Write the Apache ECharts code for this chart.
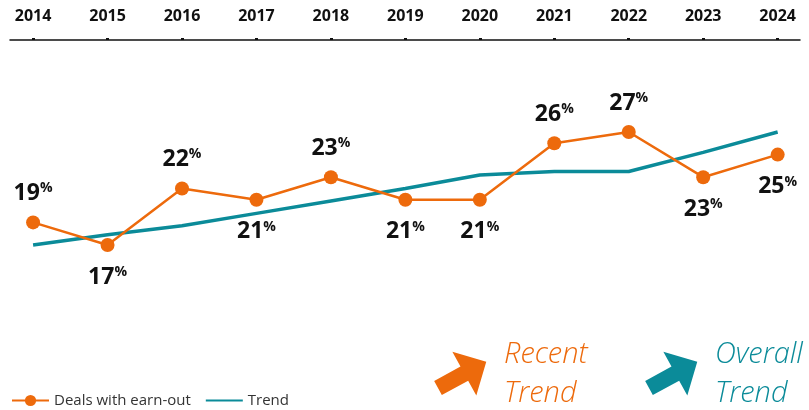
<!DOCTYPE html>
<html lang="en">
<head>
    <meta charset="UTF-8">
    <title>Deals with earn-out</title>
    <script src="https://cdn.jsdelivr.net/npm/echarts@6/dist/echarts.min.js"></script>
    <style>
        html, body { margin: 0; padding: 0; background: #fff; }
        #container { width: 809px; height: 410px; }
    </style>
</head>
<body>
<div id="container"></div>
<script>
    // data
    var years = [2014, 2015, 2016, 2017, 2018, 2019, 2020, 2021, 2022, 2023, 2024];
    var earnOut = [19, 17, 22, 21, 23, 21, 21, 26, 27, 23, 25];
    var trend = [17.0, 17.9, 18.7, 19.8, 20.9, 22.0, 23.2, 23.5, 23.5, 25.2, 27.0];

    // label above / below each point
    var labelSide = ['top', 'bottom', 'top', 'bottom', 'top', 'bottom', 'bottom', 'top', 'top', 'bottom', 'bottom'];

    var ORANGE = '#ED6A0C';
    var TEAL = '#0B8B99';
    var FONT = 'Open Sans';

    var dom = document.getElementById('container');
    var myChart = echarts.init(dom);

    var pairs = function (vals) {
        return years.map(function (y, i) { return [y, vals[i]]; });
    };

    var earnData = pairs(earnOut).map(function (p, i) {
        return {
            value: p,
            label: { position: labelSide[i], distance: labelSide[i] === 'top' ? 10 : 13 }
        };
    });

    // chunky arrow pointing right, rotated later
    var arrowPts = [[0, -8], [30, -8], [30, -25], [55, 0], [30, 25], [30, 8], [0, 8]];
    var arrowFont = 'italic 300 29px "Open Sans"';

    var option = {
        backgroundColor: '#fff',
        animation: false,
        grid: { left: 10, right: 9, top: 40, bottom: 85.9 },
        xAxis: {
            type: 'value',
            position: 'top',
            min: 2013.69,
            max: 2024.3,
            splitLine: { show: false },
            axisLine: { show: true, lineStyle: { color: '#111', width: 1.5 } },
            axisTick: { show: true, customValues: years, length: 2, lineStyle: { color: '#111', width: 3 } },
            axisLabel: {
                customValues: years,
                margin: 16,
                color: '#111',
                fontFamily: FONT,
                fontWeight: 'bold',
                fontSize: 16,
                formatter: function (v) { return String(v); }
            }
        },
        yAxis: {
            type: 'value',
            min: 10,
            max: 35.14,
            show: false,
            splitLine: { show: false }
        },
        legend: {
            left: 6,
            top: 388,
            itemWidth: 37,
            itemHeight: 14,
            itemGap: 14,
            textStyle: { color: '#333', fontFamily: FONT, fontSize: 15 },
            data: ['Deals with earn-out', { name: 'Trend', itemStyle: { opacity: 0 } }]
        },
        series: [
            {
                name: 'Trend',
                type: 'line',
                data: pairs(trend),
                symbol: 'none',
                z: 2,
                lineStyle: { color: TEAL, width: 3.5 },
                itemStyle: { color: TEAL }
            },
            {
                name: 'Deals with earn-out',
                type: 'line',
                data: earnData,
                symbol: 'circle',
                symbolSize: 14,
                z: 3,
                lineStyle: { color: ORANGE, width: 2.5 },
                itemStyle: { color: ORANGE },
                label: {
                    show: true,
                    formatter: function (p) { return '{n|' + p.value[1] + '}{p|%}'; },
                    rich: {
                        n: { fontFamily: FONT, fontWeight: 'bold', fontSize: 23, color: '#111', lineHeight: 24 },
                        p: { fontFamily: FONT, fontWeight: 'bold', fontSize: 14, color: '#111', lineHeight: 14, verticalAlign: 'top' }
                    }
                }
            }
        ],
        graphic: [
            { type: 'polygon', x: 438, y: 388, rotation: 0.5, shape: { points: arrowPts }, style: { fill: ORANGE } },
            { type: 'text', x: 504, y: 355, style: { text: 'Recent', fill: ORANGE, font: arrowFont, verticalAlign: 'middle' } },
            { type: 'text', x: 504, y: 394, style: { text: 'Trend', fill: ORANGE, font: arrowFont, verticalAlign: 'middle' } },
            { type: 'polygon', x: 649, y: 388, rotation: 0.5, shape: { points: arrowPts }, style: { fill: TEAL } },
            { type: 'text', x: 715, y: 355, style: { text: 'Overall', fill: TEAL, font: arrowFont, verticalAlign: 'middle' } },
            { type: 'text', x: 715, y: 394, style: { text: 'Trend', fill: TEAL, font: arrowFont, verticalAlign: 'middle' } }
        ]
    };

    myChart.setOption(option);
</script>
</body>
</html>
